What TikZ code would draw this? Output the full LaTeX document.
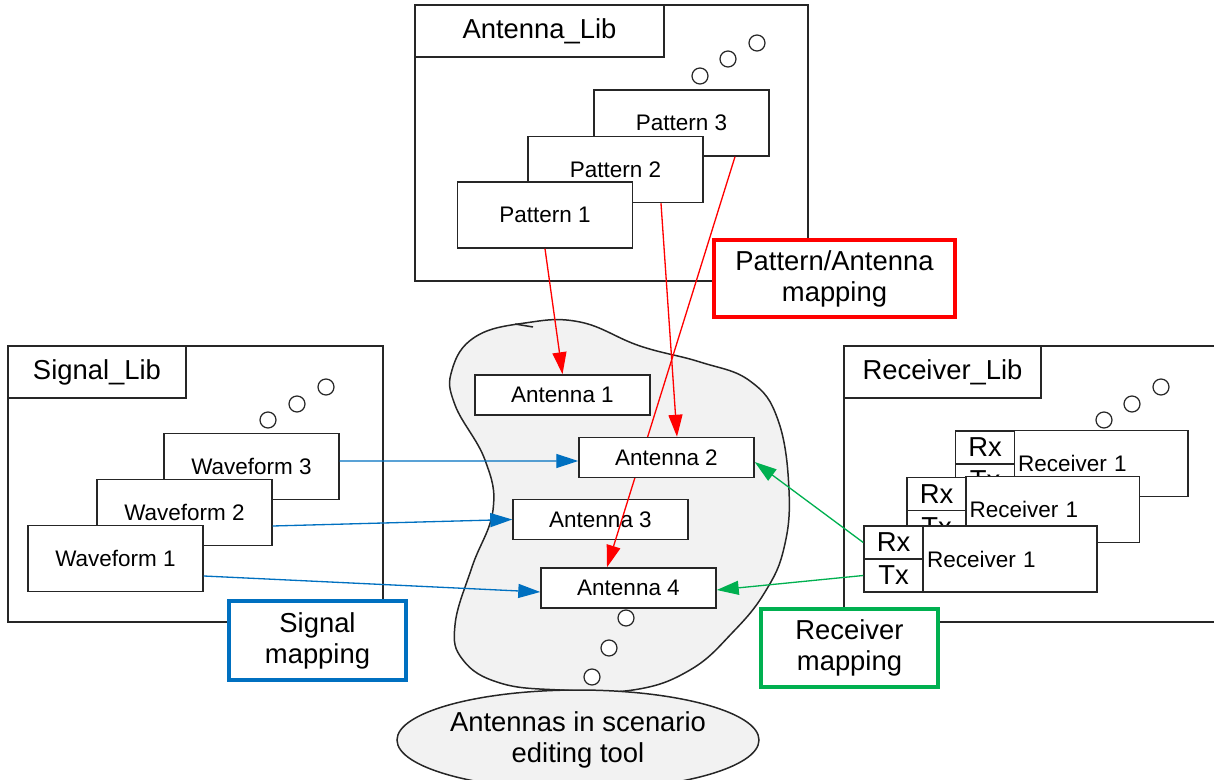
\documentclass[tikz,border=0pt]{standalone}
\usepackage{fontspec}
\setmainfont{Liberation Sans}
\usetikzlibrary{arrows.meta,shapes.geometric}
\pgfdeclarelayer{front}
\pgfsetlayers{main,front}
\definecolor{mapred}{HTML}{FF0000}
\definecolor{mapblue}{HTML}{0070C0}
\definecolor{mapgreen}{HTML}{00B050}
\definecolor{blobgrey}{HTML}{F2F2F2}
\newcommand{\lblfont}{\fontsize{15.6}{17.6}\selectfont}
\newcommand{\smlfont}{\fontsize{12.8}{15}\selectfont}
\tikzset{
	libframe/.style={draw=black!85, line width=0.85pt},
	libtitle/.style={draw=black!85, line width=0.85pt, fill=white, font=\lblfont, inner sep=0pt, minimum height=1.04cm},
	itembox/.style={draw=black!85, line width=0.85pt, fill=white, font=\smlfont, inner sep=0pt, minimum width=3.5cm, minimum height=1.32cm},
	rcvbox/.style={itembox, text width=3.32cm, align=left, inner xsep=0.08cm},
	cellbox/.style={draw=black!85, line width=0.85pt, fill=white, font=\lblfont, inner sep=0pt, minimum width=1.18cm, minimum height=0.66cm},
	antbox/.style={draw=black!85, line width=0.85pt, fill=white, font=\smlfont, inner sep=0pt, minimum width=3.5cm, minimum height=0.8cm},
	mapbox/.style={draw, fill=white, line width=2.3pt, font=\lblfont, align=center, inner sep=0pt},
	dotcircle/.style={draw=black!85, line width=0.7pt, fill=white},
	maparrow/.style={line width=0.75pt, -{Triangle[length=0.44cm, width=0.28cm]}}
}
\begin{document}
\begin{tikzpicture}[x=0.02cm, y=-0.02cm]
		\useasboundingbox (0,0) rectangle (1214,780);
		\clip (0,0) rectangle (1214,780);
		% Antenna_Lib
		\draw[libframe] (415,5) rectangle (808,281);
		\node[libtitle, minimum width=4.98cm] (antlib) at (539.5,31) {Antenna\_Lib};
		\foreach \cx/\cy in {700/76, 728/59, 757/43}
			\draw[dotcircle] (\cx,\cy) circle[radius=0.16cm];
		\node[itembox] (pat3) at (681.5,123) {Pattern 3};
		\node[itembox] (pat2) at (615.5,169.5) {Pattern 2};
		\node[itembox] (pat1) at (545,215) {Pattern 1};
		% Signal_Lib
		\draw[libframe] (8,346) rectangle (383,622);
		\node[libtitle, minimum width=3.56cm] (siglib) at (97,372) {Signal\_Lib};
		\foreach \cx/\cy in {268/420, 297/404, 326/387}
			\draw[dotcircle] (\cx,\cy) circle[radius=0.16cm];
		\node[itembox] (wave3) at (251.5,466.5) {Waveform 3};
		\node[itembox] (wave2) at (184.5,512.5) {Waveform 2};
		\node[itembox] (wave1) at (115.5,558.5) {Waveform 1};
		% Receiver_Lib
		\draw[libframe] (844,346) rectangle (1240,622);
		\node[libtitle, minimum width=3.94cm] (rcvlib) at (942.5,372) {Receiver\_Lib};
		\foreach \cx/\cy in {1104/420, 1132/404, 1161/387}
			\draw[dotcircle] (\cx,\cy) circle[radius=0.16cm];
		\node[rcvbox, minimum width=3.48cm] (rcv3) at (1101,463.5) {Receiver 1};
		\node[cellbox] (rx3) at (985,447.5) {Rx};
		\node[cellbox] (tx3) at (985,480.5) {Tx};
		\node[rcvbox, minimum width=3.48cm] (rcv2) at (1052.5,509.5) {Receiver 1};
		\node[cellbox] (rx2) at (936.5,494) {Rx};
		\node[cellbox] (tx2) at (936.5,527) {Tx};
		\node[rcvbox, minimum width=3.48cm] (rcv1) at (1010,559) {Receiver 1};
		\node[cellbox] (rx1) at (893.5,542.5) {Rx};
		\node[cellbox] (tx1) at (893.5,575.5) {Tx};
		% Scenario blob
		\draw[libframe, fill=blobgrey] plot[smooth cycle, tension=0.7] coordinates {
			(525,323) (580,322) (640,346) (700,362) (750,381) (778,420) (789,490)
			(784,548) (765,592) (733,632) (690,670) (633,690) (560,690) (500,683)
			(463,660) (455,625) (472,567) (493,510) (485,460) (455,405) (452,370) (475,337)};
		\draw[libframe] (515,324) -- (533,327);
		\foreach \cx/\cy in {626/618, 609/648, 592/677}
			\draw[dotcircle] (\cx,\cy) circle[radius=0.16cm];
		\node[ellipse, libframe, fill=blobgrey, minimum width=7.24cm, minimum height=2cm, inner sep=0pt, font=\lblfont, align=center] (scen) at (578,740) {Antennas in scenario\\editing tool};
		% Antennas
		\node[antbox] (ant1) at (562.5,395) {Antenna 1};
		\begin{pgfonlayer}{front}
			\node[antbox] (ant2) at (666.5,457.5) {Antenna 2};
		\end{pgfonlayer}
		\node[antbox] (ant3) at (600.5,519.5) {Antenna 3};
		\node[antbox] (ant4) at (628.5,588) {Antenna 4};
		% Pattern arrows
		\draw[maparrow, mapred] (pat1.south) -- (ant1.north);
		\draw[maparrow, mapred] ([xshift=0.91cm]pat2.south) -- ([xshift=0.21cm]ant2.north);
		\draw[maparrow, mapred] ([xshift=1.07cm]pat3.south) -- ([xshift=-0.43cm]ant4.north);
		% Signal arrows
		\draw[maparrow, mapblue] ([yshift=0.11cm]wave3.east) -- ([yshift=-0.07cm]ant2.west);
		\draw[maparrow, mapblue] ([yshift=-0.27cm]wave2.east) -- (ant3.west);
		\draw[maparrow, mapblue] ([yshift=-0.35cm]wave1.east) -- ([yshift=-0.08cm]ant4.west);
		% Receiver arrows
		\draw[maparrow, mapgreen] (rx1.west) -- ([yshift=-0.09cm]ant2.east);
		\draw[maparrow, mapgreen] (tx1.west) -- ([yshift=-0.04cm]ant4.east);
		% Mapping labels
		\node[mapbox, draw=mapred, minimum width=4.82cm, minimum height=1.54cm] (patmap) at (834.5,278.5) {Pattern/Antenna\\mapping};
		\node[mapbox, draw=mapblue, minimum width=3.54cm, minimum height=1.58cm] (sigmap) at (317.5,640.5) {Signal\\mapping};
		\node[mapbox, draw=mapgreen, minimum width=3.54cm, minimum height=1.56cm] (rcvmap) at (849.5,648) {Receiver\\mapping};
	\end{tikzpicture}
\end{document}
